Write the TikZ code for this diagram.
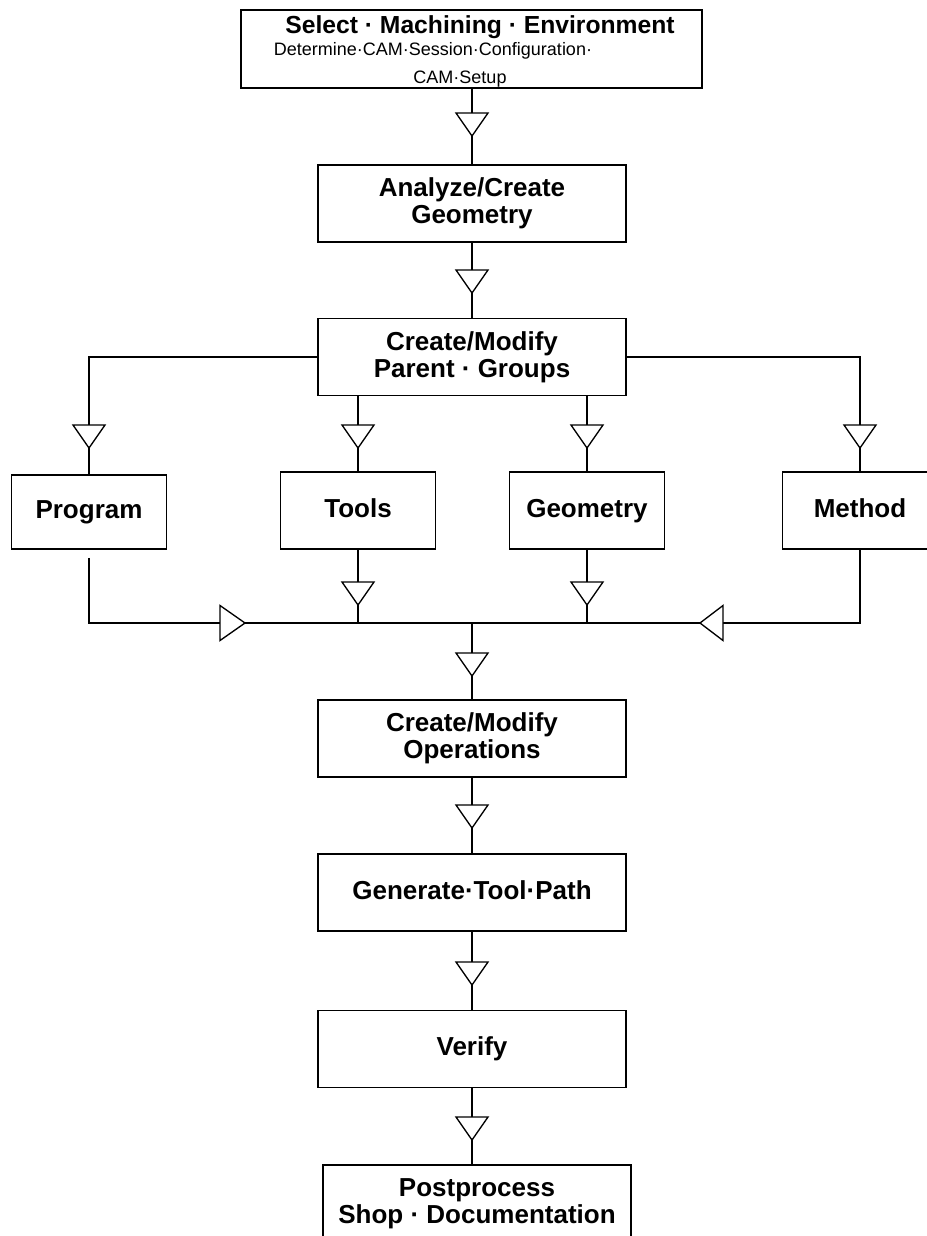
\documentclass[tikz,border=0pt]{standalone}
\usepackage{fontspec}
\setmainfont{Liberation Sans}
\usetikzlibrary{calc}
\begin{document}
\begin{tikzpicture}[x=0.75pt,y=-0.75pt,line width=1.3pt,
  boxfont/.style={font=\bfseries\fontsize{19.5}{20.5}\selectfont},
  bigbox/.style={draw,fill=white,boxfont,align=center,inner sep=0pt,
    minimum width=231pt,minimum height=57.75pt},
  smallbox/.style={draw,fill=white,boxfont,align=center,inner sep=0pt,
    minimum width=116.25pt,minimum height=57.75pt,text height=14pt,text depth=4.2pt},
  oneline/.style={text height=14pt,text depth=4.2pt},
  tridown/.pic={\draw[fill=white,line width=1pt] (-16,0) -- (16,0) -- (0,23) -- cycle;},
  triright/.pic={\draw[fill=white,line width=1pt] (0,-17.5) -- (25,0) -- (0,17.5) -- cycle;},
  trileft/.pic={\draw[fill=white,line width=1pt] (0,-17.5) -- (-23,0) -- (0,17.5) -- cycle;}
]
\useasboundingbox (0,0) rectangle (927,1236);
\clip (0,0) rectangle (927,1236);
\fill[white] (0,0) rectangle (927,1236);

% top box
\node[draw,minimum width=345.75pt,minimum height=58.5pt,inner sep=0pt] (top) at (471.5,49) {};
\node[anchor=base,inner sep=0pt,font=\bfseries\fontsize{18.5}{20}\selectfont] (title) at (480,33) {Select · Machining · Environment};
\node[anchor=base,inner sep=0pt,font=\fontsize{13.5}{15}\selectfont] (sub1) at (433,55) {Determine·CAM·Session·Configuration·};
\node[anchor=base,inner sep=0pt,font=\fontsize{13.5}{15}\selectfont] (sub2) at (460,83) {CAM·Setup};

\node[bigbox] (analyze) at (472,203.5) {Analyze/Create\\Geometry};
\node[bigbox] (parent) at (472,357) {Create/Modify\\Parent · Groups};
\node[smallbox,minimum height=55.5pt] (program) at (89,512) {Program};
\node[smallbox] (tools) at (358,510.5) {Tools};
\node[smallbox] (geometry) at (587,510.5) {Geometry};
\node[smallbox] (method) at (860,510.5) {Method};
\coordinate (bus) at (472,623);
\node[bigbox] (ops) at (472,738.5) {Create/Modify\\Operations};
\node[bigbox,oneline] (gen) at (472,892.5) {Generate·Tool·Path};
\node[bigbox,oneline] (verify) at (472,1049) {Verify};
\node[bigbox] (post) at (477,1203.5) {Postprocess\\Shop · Documentation};

% connectors
\draw (top.south -| analyze) -- (analyze.north);
\draw (analyze.south) -- (parent.north);
\draw (parent.west) -| (program.north);
\draw (parent.east) -| (method.north);
\draw (parent.south -| tools) -- (tools.north);
\draw (parent.south -| geometry) -- (geometry.north);
\coordinate (progout) at ($(program.south)+(0,8)$);
\draw (progout) |- (bus);
\draw (method.south) |- (bus);
\draw (tools.south) -- (tools.south |- bus);
\draw (geometry.south) -- (geometry.south |- bus);
\draw (bus) -- (ops.north);
\draw (ops.south) -- (gen.north);
\draw (gen.south) -- (verify.north);
\draw (verify.south) -- (verify.south |- post.north);

% arrow markers
\pic at (472,113) {tridown};
\pic at (472,270) {tridown};
\pic at (program.north |- 0,425) {tridown};
\pic at (tools.north |- 0,425) {tridown};
\pic at (geometry.north |- 0,425) {tridown};
\pic at (method.north |- 0,425) {tridown};
\pic at (tools.south |- 0,582) {tridown};
\pic at (geometry.south |- 0,582) {tridown};
\pic at (220,623) {triright};
\pic at (723,623) {trileft};
\pic at (472,653) {tridown};
\pic at (472,805) {tridown};
\pic at (472,962) {tridown};
\pic at (472,1117) {tridown};
\end{tikzpicture}
\end{document}
